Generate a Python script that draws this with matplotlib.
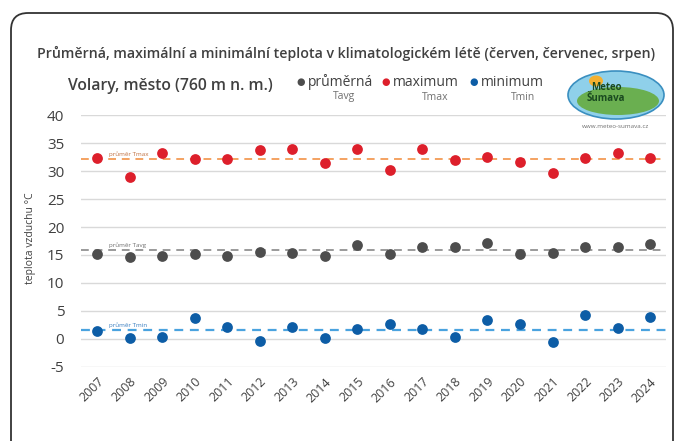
import matplotlib
matplotlib.use("Agg")
import matplotlib.pyplot as plt
from matplotlib.patches import FancyBboxPatch, Ellipse
import numpy as np

years = [2007, 2008, 2009, 2010, 2011, 2012, 2013, 2014, 2015, 2016, 2017, 2018, 2019, 2020, 2021, 2022, 2023, 2024]
tmax = [32.4, 29.0, 33.3, 32.1, 32.1, 33.7, 34.0, 31.5, 33.9, 30.1, 33.9, 31.9, 32.6, 31.7, 29.6, 32.3, 33.3, 32.4]
tavg = [15.2, 14.7, 14.9, 15.2, 14.9, 15.6, 15.4, 14.9, 16.8, 15.2, 16.5, 16.5, 17.2, 15.1, 15.4, 16.5, 16.5, 17.0]
tmin = [1.4, 0.1, 0.4, 3.8, 2.2, -0.4, 2.2, 0.1, 1.8, 2.7, 1.8, 0.4, 3.3, 2.6, -0.5, 4.2, 2.0, 4.0]
mean_tmax = 32.2
mean_tavg = 15.9
mean_tmin = 1.6
yticks = [-5, 0, 5, 10, 15, 20, 25, 30, 35, 40]

title = "Průměrná, maximální a minimální teplota v klimatologickém létě (červen, červenec, srpen)"
subtitle = "Volary, město (760 m n. m.)"
ylabel = "teplota vzduchu °C"

c_max = "#dd1f2b"
c_avg = "#4d4d4d"
c_min = "#0d5da6"
txt = "#404040"
font = "Open Sans"

fig = plt.figure(figsize=(6.83, 4.41), dpi=100)
ax = fig.add_axes([0.1186, 0.168, 0.857, 0.571])

x = np.arange(len(years))
for v in yticks:
    ax.axhline(v, color="#d9d9d9", lw=1.0, zorder=0)
ax.axhline(mean_tmax, color="#f4a261", lw=1.4, ls=(0, (4, 3)), zorder=1)
ax.axhline(mean_tavg, color="#9a9a9a", lw=1.4, ls=(0, (4, 3)), zorder=1)
ax.axhline(mean_tmin, color="#4aa3df", lw=1.6, ls=(0, (4, 3)), zorder=1)
ax.text(0.35, mean_tmax + 0.4, "průměr Tmax", fontsize=4.5, color="#c07040", family=font, va="bottom")
ax.text(0.35, mean_tavg + 0.4, "průměr Tavg", fontsize=4.5, color="#707070", family=font, va="bottom")
ax.text(0.35, mean_tmin + 0.4, "průměr Tmin", fontsize=4.5, color="#3a7fc0", family=font, va="bottom")

ax.scatter(x, tmax, s=60, color=c_max, zorder=3, linewidths=0)
ax.scatter(x, tavg, s=60, color=c_avg, zorder=3, linewidths=0)
ax.scatter(x, tmin, s=60, color=c_min, zorder=3, linewidths=0)

ax.set_xlim(-0.5, len(years) - 0.5)
ax.set_ylim(-5, 40)
ax.set_yticks(yticks)
ax.set_yticklabels([str(v) for v in yticks], fontsize=11, color=txt, family=font)
ax.set_xticks(x)
ax.set_xticklabels([str(y) for y in years], rotation=45, ha="right", rotation_mode="anchor",
                   fontsize=9, color=txt, family=font)
ax.tick_params(axis="y", length=0, pad=12)
ax.tick_params(axis="x", length=0, pad=6)
for s in ax.spines.values():
    s.set_visible(False)
ax.set_facecolor("none")

fig.text(31 / 683, 1 - 238 / 441, ylabel, rotation=90, fontsize=7.5, color=txt, family=font,
         ha="center", va="center")

fig.text(346 / 683, 1 - 53 / 441, title, fontsize=10.2, fontweight="semibold", color=txt, family=font,
         ha="center", va="center")
fig.text(68 / 683, 1 - 86 / 441, subtitle, fontsize=11.3, fontweight="semibold", color=txt, family=font,
         ha="left", va="center")

legend_items = [("průměrná", "Tavg", c_avg, 301, 344), ("maximum", "Tmax", c_max, 386, 435),
                ("minimum", "Tmin", c_min, 474, 523)]
for name, sub, col, px, sx in legend_items:
    fig.text(px / 683, 1 - 82 / 441, "●", fontsize=7, color=col, ha="center", va="center")
    fig.text((px + 7) / 683, 1 - 82 / 441, name, fontsize=10, color=txt, family=font, ha="left", va="center")
    fig.text(sx / 683, 1 - 97 / 441, sub, fontsize=7.5, color="#707070", family=font, ha="center", va="center")

# logo
lax = fig.add_axes([566 / 683, 1 - 121 / 441, 100 / 683, 52 / 441])
lax.set_xlim(0, 100)
lax.set_ylim(0, 52)
lax.axis("off")
lax.add_patch(Ellipse((50, 26), 96, 48, facecolor="#8fd0ea", edgecolor="#3a8fc0", lw=1.2))
lax.add_patch(Ellipse((52, 20), 82, 28, facecolor="#6aaf50", edgecolor="none"))
lax.add_patch(Ellipse((30, 40), 14, 11, facecolor="#f4b030", edgecolor="none"))
lax.text(40, 28, "Meteo\nŠumava", fontsize=7, fontweight="bold", color="#1a4a20", ha="center", va="center",
         family=font, linespacing=0.9)
fig.text(616 / 683, 1 - 127 / 441, "www.meteo-sumava.cz", fontsize=4.5, color="#707070", ha="center",
         va="center", family=font)

# frame
frame = FancyBboxPatch((11 / 683, -0.1), 662 / 683, (441 - 13) / 441 + 0.1,
                       boxstyle="round,pad=0,rounding_size=0.025", transform=fig.transFigure,
                       facecolor="none", edgecolor="#333333", lw=1.3, mutation_aspect=683 / 441)
fig.patches.append(frame)

fig.savefig("out.png", dpi=100)
